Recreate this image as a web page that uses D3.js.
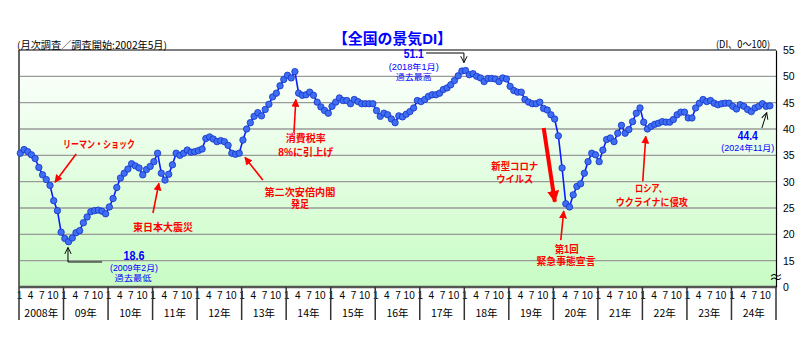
<!DOCTYPE html>
<html><head><meta charset="utf-8">
<script src="https://cdn.jsdelivr.net/npm/d3@7"></script>
<style>
body{margin:0;background:#fff;}
svg{display:block;font-family:"Noto Sans CJK JP","Noto Sans",sans-serif;}
</style>
</head><body>
<svg id="c" width="800" height="362"></svg>
<script>
// ---------- data ----------
const startYear = 2008;
const yearLabels = ["2008年","09年","10年","11年","12年","13年","14年","15年","16年","17年","18年","19年","20年","21年","22年","23年","24年"];
const monthLabels = ["1","4","7","10"];
const yTickValues = [10,15,20,25,30,35,40,45,50,55];
const yTickLabels = ["0","15","20","25","30","35","40","45","50","55"];

const di2008 = [35.4,36.1,35.7,35.1,34.4,32.7,31.3,30.4,29.3,26.4,24.5,20.4];
const di2009 = [19.2,18.6,19.3,20.3,20.7,22.2,23.3,24.3,24.5,24.6,24.4,23.9];
const di2010 = [25.2,26.8,28.9,30.7,31.6,32.4,33.4,33.0,32.6,31.3,32.3,32.9];
const di2011 = [33.8,35.4,31.6,30.3,31.4,33.2,35.4,35.0,35.4,36.0,35.6,35.7];
const di2012 = [35.9,36.2,38.2,38.5,38.1,37.6,37.8,37.6,36.9,35.4,35.2,35.4];
const di2013 = [37.9,40.0,41.2,42.4,43.1,42.5,43.7,44.7,46.1,46.8,48.2,49.4];
const di2014 = [50.2,49.7,50.9,46.8,46.4,46.5,47.0,46.4,45.1,44.2,43.5,43.0];
const di2015 = [44.3,45.1,45.9,45.4,45.4,44.8,45.6,45.2,44.8,44.8,44.8,44.8];
const di2016 = [43.5,42.4,43.0,42.7,41.9,41.2,42.5,42.3,42.8,43.3,44.0,45.4];
const di2017 = [45.2,45.6,46.2,46.5,46.5,46.8,47.5,47.8,48.4,49.2,50.1,51.0];
const di2018 = [51.1,50.3,50.5,50.0,49.7,49.0,49.6,49.6,49.5,49.0,49.7,49.5];
const di2019 = [48.1,47.3,47.0,47.0,45.6,45.1,44.8,44.8,45.1,43.9,43.6,42.7];
const di2020 = [41.9,38.7,32.6,25.8,25.2,27.5,29.1,29.6,31.6,33.8,35.4,35.1];
const di2021 = [33.8,36.0,38.0,38.3,37.6,39.2,40.7,39.2,39.9,41.4,43.0,44.0];
const di2022 = [41.3,40.0,40.5,40.9,41.1,41.4,41.3,41.3,41.8,42.7,43.2,43.2];
const di2023 = [42.1,42.1,44.0,44.9,45.6,45.2,45.4,44.9,44.6,44.8,44.9,44.9];
const di2024 = [44.3,43.8,44.6,44.3,43.7,43.3,44.0,44.3,44.8,44.3,44.4];

const diValues = [].concat(di2008,di2009,di2010,di2011,di2012,di2013,di2014,di2015,
  di2016,di2017,di2018,di2019,di2020,di2021,di2022,di2023,di2024);

// ---------- layout ----------
const L = 19, R = 776, T = 50, B = 287;
const nYears = yearLabels.length;
const svg = d3.select("#c");

const x = d3.scaleLinear().domain([0, nYears*12]).range([L, R]);
const y = d3.scaleLinear().domain([10, 55]).range([B, T]);
const px = i => x(i + 0.35);

// gradient background
const defs = svg.append("defs");
const g = defs.append("linearGradient").attr("id","bg").attr("x1",0).attr("x2",0).attr("y1",0).attr("y2",1);
g.append("stop").attr("offset","0%").attr("stop-color","#f9fff9");
g.append("stop").attr("offset","100%").attr("stop-color","#c8fcc4");

svg.append("rect").attr("x",L).attr("y",y(50)).attr("width",R-L).attr("height",B-y(50)).attr("fill","url(#bg)");

// markers
function arrowMarker(id, color, size){
  defs.append("marker").attr("id",id).attr("viewBox","0 0 10 10").attr("refX",9).attr("refY",5)
    .attr("markerWidth",size).attr("markerHeight",size).attr("markerUnits","userSpaceOnUse")
    .attr("orient","auto")
    .append("path").attr("d","M0,0 L10,5 L0,10 z").attr("fill",color);
}
arrowMarker("ar","#ff0000",8);
arrowMarker("arBig","#ff0000",12);
defs.append("marker").attr("id","open").attr("viewBox","0 0 10 10").attr("refX",9).attr("refY",5)
  .attr("markerWidth",8).attr("markerHeight",8).attr("markerUnits","userSpaceOnUse").attr("orient","auto")
  .append("path").attr("d","M1,1 L9,5 L1,9").attr("fill","none").attr("stroke","#000").attr("stroke-width",1.2);

// grid lines
svg.append("g").selectAll("line").data(yTickValues.filter(v => v > 10 && v < 55)).join("line")
  .attr("x1",L).attr("x2",R).attr("y1",d=>y(d)).attr("y2",d=>y(d))
  .attr("stroke","#9a9a9a").attr("stroke-width",1.3);

// frame
svg.append("line").attr("x1",L).attr("x2",R).attr("y1",T).attr("y2",T).attr("stroke","#555").attr("stroke-width",1.5);
svg.append("line").attr("x1",L).attr("x2",L).attr("y1",T).attr("y2",B).attr("stroke","#666").attr("stroke-width",2);
svg.append("line").attr("x1",L).attr("x2",R).attr("y1",B).attr("y2",B).attr("stroke","#555").attr("stroke-width",2.5);

// right axis
const yAxis = svg.append("g").attr("transform",`translate(${R},0)`)
  .call(d3.axisRight(y).tickValues(yTickValues).tickSize(0).tickPadding(7)
    .tickFormat((d,i)=>yTickLabels[i]));
yAxis.select(".domain").attr("stroke","#000").attr("stroke-width",1.2);
yAxis.selectAll("text").attr("font-size",10.5).attr("fill","#000").attr("font-family","Liberation Sans, Arial, sans-serif");

// break symbol
svg.append("text").attr("x",R).attr("y",y(12.1)).attr("text-anchor","middle").attr("dominant-baseline","central")
  .attr("font-size",14).attr("fill","#000").text("≈");

// bottom month axis
const monthTicks = d3.range(0, nYears*12, 3);
const xAxis = svg.append("g").attr("transform",`translate(0,${B})`)
  .call(d3.axisBottom(x).tickValues(monthTicks).tickSize(0).tickPadding(5)
    .tickFormat(d => monthLabels[(d % 12)/3]));
xAxis.select(".domain").remove();
xAxis.selectAll("text").attr("font-size",10).attr("fill","#000").attr("font-family","Liberation Sans, Arial, sans-serif");

// year separators
svg.append("g").selectAll("line").data(d3.range(0, nYears+1)).join("line")
  .attr("x1",d=>x(d*12)).attr("x2",d=>x(d*12)).attr("y1",B).attr("y2",320)
  .attr("stroke","#333").attr("stroke-width",1.5);

// year labels
svg.append("g").selectAll("text").data(yearLabels).join("text")
  .attr("x",(d,i)=>x(i*12+6)).attr("y",312).attr("text-anchor","middle").attr("dominant-baseline","central")
  .attr("font-size",10.5).attr("fill","#000").text(d=>d);

// series line
const line = d3.line().x((d,i)=>px(i)).y(d=>y(d));
svg.append("path").datum(diValues).attr("d",line).attr("fill","none").attr("stroke","#0a1cff").attr("stroke-width",1.6);
svg.append("g").selectAll("circle").data(diValues).join("circle")
  .attr("cx",(d,i)=>px(i)).attr("cy",d=>y(d)).attr("r",3.2)
  .attr("fill","#3e6ef2").attr("stroke","#1531c8").attr("stroke-width",0.8);

// ---------- annotations (data-space anchors) ----------
const annFont = "'Liberation Sans', 'Noto Sans CJK JP', sans-serif";
function block(lines, color){
  const e = svg.append("text").attr("text-anchor","middle").attr("dominant-baseline","central")
    .attr("fill",color).attr("font-family",annFont);
  lines.forEach(l => {
    const s = e.append("tspan").attr("x",x(l.mi)).attr("y",y(l.v))
      .attr("font-size",l.size||10).attr("font-weight",l.weight||"bold").text(l.t);
    if(l.w) s.attr("textLength",l.w).attr("lengthAdjust","spacingAndGlyphs");
  });
  return e;
}
function arrow(a, b, marker, color, w){
  svg.append("line").attr("x1",x(a[0])).attr("y1",y(a[1])).attr("x2",x(b[0])).attr("y2",y(b[1]))
    .attr("stroke",color).attr("stroke-width",w).attr("marker-end",`url(#${marker})`);
}
const red = "#ff0000", blue = "#0000ff";

block([{t:"リーマン・ショック", mi:21.55, v:37.15, w:72, size:10.5}], red);
arrow([15.4,35.25],[9.7,29.9],"ar",red,1.6);

block([{t:"東日本大震災", mi:38.8, v:21.39, w:60, size:10.5}], red);
arrow([36.1,24.05],[37.7,29.7],"ar",red,1.6);

block([{t:"消費税率", mi:77.3, v:38.2, w:40},{t:"8%に引上げ", mi:77.3, v:35.55, w:55}], red);
arrow([74.1,39.24],[74.6,45.6],"ar",red,1.6);

block([{t:"第二次安倍内閣", mi:75.7, v:28.1, w:71},{t:"発足", mi:75.7, v:25.7, w:18}], red);
arrow([65.7,30.3],[60.9,34.6],"ar",red,1.6);

block([{t:"新型コロナ", mi:133.6, v:33.05, w:47},{t:"ウイルス", mi:133.6, v:30.6, w:37}], red);
arrow([141.4,40.2],[144.4,26.2],"arBig",red,4);

block([{t:"第1回", mi:147.6, v:17.3, w:24},{t:"緊急事態宣言", mi:147.4, v:14.85, w:59}], red);
arrow([146.0,18.9],[146.8,24.4],"ar",red,1.6);

block([{t:"ロシア、", mi:170.3, v:28.85, w:32},{t:"ウクライナに侵攻", mi:170.5, v:26.1, w:72}], red);
arrow([168.1,30.1],[168.9,38.6],"ar",red,1.6);

block([{t:"18.6", mi:30.98, v:15.95, size:12, w:21},
       {t:"(2009年2月)", mi:30.98, v:13.65, size:8.5, weight:"normal", w:48},
       {t:"過去最低", mi:30.7, v:11.65, size:8.5, weight:"normal", w:37}], blue);
svg.append("path").attr("d",`M${x(22.4)},${y(14.75)} H${x(13.2)} V${y(17.5)}`)
  .attr("fill","none").attr("stroke","#000").attr("stroke-width",1).attr("marker-end","url(#open)");

block([{t:"51.1", mi:106.4, v:54.2, size:12, w:20},
       {t:"(2018年1月)", mi:106.4, v:51.8, size:8.5, weight:"normal", w:50},
       {t:"過去最高", mi:106.4, v:49.95, size:8.5, weight:"normal", w:36}], blue);
svg.append("path").attr("d",`M${x(109.7)},${y(54.43)} H${x(119.9)} V${y(52.6)}`)
  .attr("fill","none").attr("stroke","#000").attr("stroke-width",1).attr("marker-end","url(#open)");

block([{t:"44.4", mi:196.4, v:38.6, size:12, w:20},
       {t:"(2024年11月)", mi:196.4, v:36.3, size:8.5, weight:"normal", w:53}], blue);
arrow([200.2,40.2],[201.5,43.1],"open","#000",1);

// ---------- titles ----------
svg.append("text").attr("x",392.5).attr("y",38).attr("text-anchor","middle").attr("dominant-baseline","central")
  .attr("font-family",annFont)
  .attr("font-size",15).attr("font-weight","bold").attr("fill","#0000ff")
  .attr("textLength",119).attr("lengthAdjust","spacingAndGlyphs").text("【全国の景気DI】");
svg.append("text").attr("x",17).attr("y",44.3).attr("dominant-baseline","central")
  .attr("font-size",10).attr("fill","#000")
  .attr("textLength",150).attr("lengthAdjust","spacingAndGlyphs").text("(月次調査／調査開始:2002年5月)");
svg.append("text").attr("x",716).attr("y",43).attr("dominant-baseline","central")
  .attr("font-size",10).attr("fill","#000")
  .attr("textLength",54).attr("lengthAdjust","spacingAndGlyphs").text("(DI、0～100)");
</script>
</body></html>
